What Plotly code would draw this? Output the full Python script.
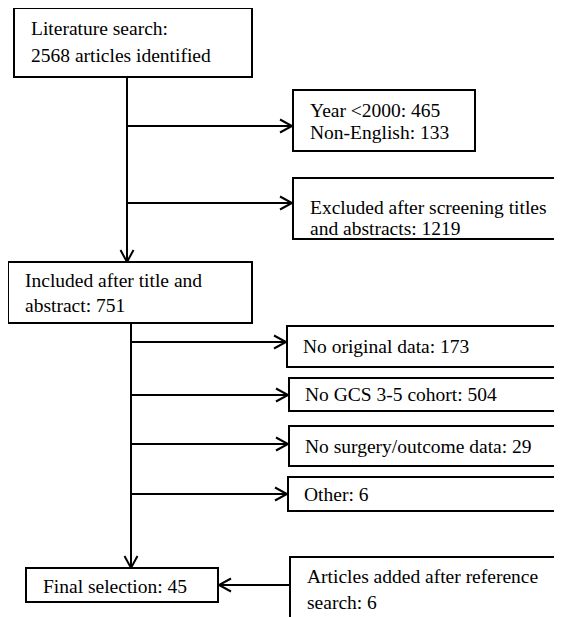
import plotly.graph_objects as go

# ---- data ----
identified = 2568
early_labels = ["Year <2000", "Non-English"]
early_counts = [465, 133]
screen_excluded = 1219
included = 751
late_labels = ["No original data", "No GCS 3-5 cohort", "No surgery/outcome data", "Other"]
late_counts = [173, 504, 29, 6]
added = 6
final = 45

W, H = 562, 617
PAD = 8  # default page body margin
FONT = dict(family="Liberation Serif, Times New Roman, serif", size=19.5, color="black")
LW = 2

fig = go.Figure()
shapes = []
annotations = []


def esc(s):
    return s.replace("<", "&lt;")


def box(x0, y0, x1, y1):
    shapes.append(dict(type="rect", xref="x", yref="y", x0=x0, y0=y0, x1=x1, y1=y1,
                       line=dict(color="black", width=LW), fillcolor="white", layer="above"))


def text(x, y, s):
    annotations.append(dict(x=x, y=y, xref="x", yref="y", text=esc(s), showarrow=False,
                            xanchor="left", yanchor="middle", font=FONT))


def line(x0, y0, x1, y1):
    shapes.append(dict(type="line", xref="x", yref="y", x0=x0, y0=y0, x1=x1, y1=y1,
                       line=dict(color="black", width=LW)))


def arrow(x0, y0, x1, y1, L=12, Wd=6.5):
    line(x0, y0, x1, y1)
    dx, dy = x1 - x0, y1 - y0
    n = (dx * dx + dy * dy) ** 0.5
    ux, uy = dx / n, dy / n
    px, py = -uy, ux
    ax, ay = x1 - L * ux + Wd * px, y1 - L * uy + Wd * py
    bx, by = x1 - L * ux - Wd * px, y1 - L * uy - Wd * py
    shapes.append(dict(type="path", xref="x", yref="y",
                       path=f"M{ax},{ay} L{x1},{y1} L{bx},{by}",
                       line=dict(color="black", width=LW)))


# top box
box(14, 8, 252, 77)
text(29, 28, "Literature search:")
text(29, 55, f"{identified} articles identified")

# first trunk
arrow(127, 77, 127, 262)
arrow(127, 126, 292, 126)
arrow(127, 203, 292, 203)

box(293, 90, 475, 151)
text(308, 110, f"{early_labels[0]}: {early_counts[0]}")
text(308, 132, f"{early_labels[1]}: {early_counts[1]}")

box(293, 178, 560, 239)
text(308, 207, "Excluded after screening titles")
text(308, 228, f"and abstracts: {screen_excluded}")

# included box
box(8, 262, 252, 323)
text(23, 280, "Included after title and")
text(23, 305, f"abstract: {included}")

# second trunk
arrow(131, 323, 131, 568)
late_y = [342, 395, 444, 494]
late_boxes = [(287, 326, 367), (289, 378, 411), (289, 426, 466), (288, 477, 511)]
for lab, cnt, ay, (bx0, by0, by1) in zip(late_labels, late_counts, late_y, late_boxes):
    arrow(131, ay, bx0 - 1, ay)
    box(bx0, by0, 600, by1)
    text(bx0 + 14, (by0 + by1) / 2, f"{lab}: {cnt}")

# final
box(26, 568, 218, 602)
text(41, 586, f"Final selection: {final}")

box(290, 557, 600, 660)
arrow(290, 585, 219, 585)
text(305, 576, "Articles added after reference")
text(305, 602, f"search: {added}")

fig.update_layout(
    width=W - PAD, height=H - PAD,
    margin=dict(l=0, r=0, t=0, b=0),
    paper_bgcolor="white", plot_bgcolor="white",
    xaxis=dict(range=[PAD, W], visible=False, fixedrange=True),
    yaxis=dict(range=[H, PAD], visible=False, fixedrange=True),
    shapes=shapes, annotations=annotations, showlegend=False,
)
fig.write_html("out.html")
